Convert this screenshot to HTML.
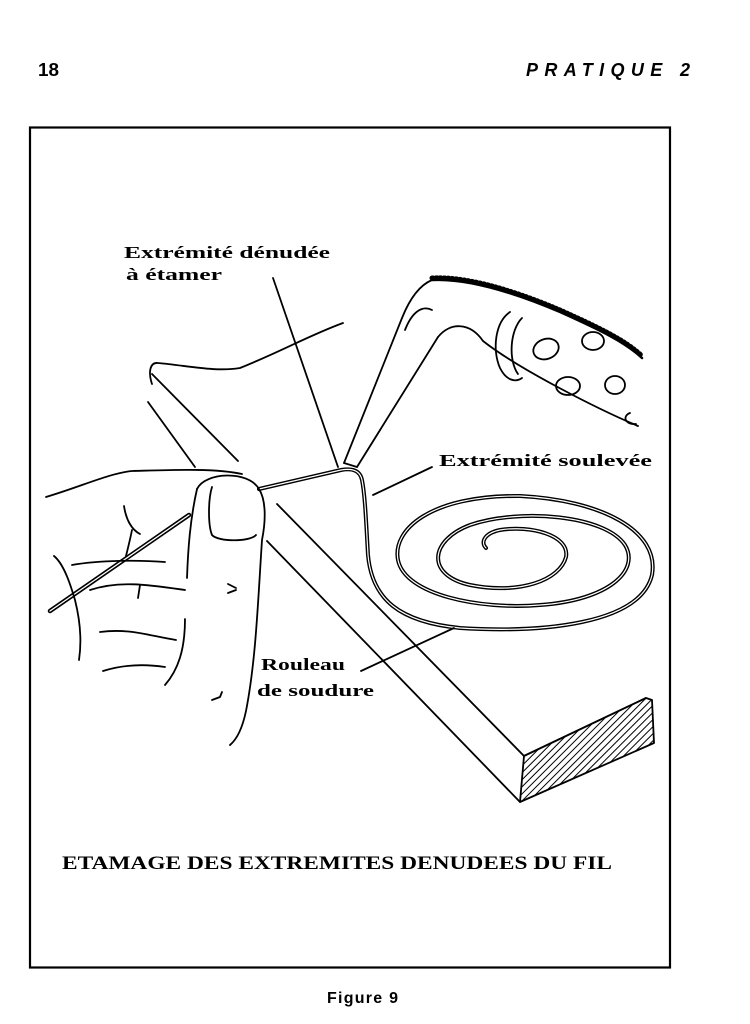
<!DOCTYPE html>
<html><head><meta charset="utf-8"><style>
html,body{margin:0;padding:0;background:#fff;}
svg{display:block;}
</style></head><body>
<svg width="750" height="1024" viewBox="0 0 750 1024" xmlns="http://www.w3.org/2000/svg">
<defs>
<pattern id="h" width="5" height="5" patternUnits="userSpaceOnUse" patternTransform="rotate(45)">
<rect width="5" height="5" fill="#fff"/><line x1="0" y1="0" x2="0" y2="5" stroke="#000" stroke-width="2"/>
</pattern>
</defs>
<text x="38" y="76" font-family="Liberation Sans, sans-serif" font-weight="bold" font-size="18" textLength="21" lengthAdjust="spacingAndGlyphs">18</text>
<text x="526" y="76" font-family="Liberation Sans, sans-serif" font-weight="bold" font-style="italic" font-size="18" textLength="164" lengthAdjust="spacing">PRATIQUE 2</text>
<rect x="30" y="127.5" width="640" height="840" fill="none" stroke="#000" stroke-width="2.2"/>

<g fill="none" stroke="#000" stroke-width="1.8" stroke-linecap="round" stroke-linejoin="round">
<path d="M152,384 C148,372 150,362 158,363 C190,366 215,372 240,368 C280,352 310,335 343,323"/>
<path d="M152,374 L238,461"/>
<path d="M148,402 L195,467"/>
<path d="M277,504 L524,756"/>
<path d="M267,541 L520,802"/>
<path d="M524,756 L646,698"/>
<path d="M524,756 L520,802 L654,743 L652,700 L646,698 Z" fill="url(#h)"/>
<path d="M344,463 L402,318 C410,298 420,285 432,280"/>
<path d="M357,467 L438,337"/>
<path d="M344,463 L357,467"/>
<path d="M405,330 C412,312 422,305 432,310"/>
<path d="M432,280 C470,278 520,295 560,312 C600,330 625,342 642,358" stroke-width="2.5"/>
<path d="M432,280 C470,278 520,295 560,312 C600,330 625,342 642,358" stroke-width="5" stroke-dasharray="1 3" transform="translate(0,-2)"/>
<path d="M438,337 C450,322 470,322 483,341 C520,370 600,410 638,426"/>
<path d="M510,312 C495,322 492,350 500,368 C506,380 515,383 522,378"/>
<path d="M522,318 C510,330 508,360 518,374"/>
<ellipse cx="546" cy="349" rx="13" ry="10" transform="rotate(-20 546 349)"/>
<ellipse cx="593" cy="341" rx="11" ry="9"/>
<ellipse cx="568" cy="386" rx="12" ry="9"/>
<ellipse cx="615" cy="385" rx="10" ry="9"/>
<path d="M630,413 C622,416 625,425 636,424"/>
<path d="M50,611 L189,515" stroke-width="4.5"/>
<path d="M50,611 L189,515" stroke="#fff" stroke-width="1.3"/>
<path d="M259,489 L341,470 C352,468 360,470 362,480 C365,495 366,520 368,555 C372,600 400,622 460,628 C540,633 640,625 652,575 C660,530 600,500 520,496 C430,495 392,530 398,560 C405,595 480,610 540,605 C610,600 640,570 625,545 C605,515 520,508 470,525 C430,540 425,575 470,585 C520,595 560,580 566,557 C570,535 530,525 500,530 C485,533 480,542 486,548" stroke-width="4"/>
<path d="M259,489 L341,470 C352,468 360,470 362,480 C365,495 366,520 368,555 C372,600 400,622 460,628 C540,633 640,625 652,575 C660,530 600,500 520,496 C430,495 392,530 398,560 C405,595 480,610 540,605 C610,600 640,570 625,545 C605,515 520,508 470,525 C430,540 425,575 470,585 C520,595 560,580 566,557 C570,535 530,525 500,530 C485,533 480,542 486,548" stroke="#fff" stroke-width="1.2"/>
<path d="M273,278 L338,467"/>
<path d="M432,467 L373,495"/>
<path d="M361,671 L454,628"/>
<path d="M46,497 C80,487 110,473 132,471 C170,470 215,468 242,474"/>
<path d="M197,489 C205,472 248,470 259,489 C266,500 266,520 262,540 C258,600 256,660 246,711 C242,730 236,740 230,745"/>
<path d="M197,489 C190,520 188,550 187,578"/>
<path d="M212,487 C208,500 208,525 212,535 C218,542 250,542 256,535"/>
<path d="M124,506 C126,520 132,530 140,534"/>
<path d="M54,556 C65,565 72,590 75,600 C80,620 82,640 79,660"/>
<path d="M72,565 C100,560 140,560 165,562"/>
<path d="M90,590 C120,580 150,585 185,590"/>
<path d="M100,632 C130,628 150,636 176,640"/>
<path d="M103,671 C125,664 145,664 165,667"/>
<path d="M185,619 C185,650 178,670 165,685"/>
<path d="M132,530 C130,540 128,548 126,556"/>
<path d="M140,585 L138,598"/>
<path d="M228,584 L236,588 M228,593 L236,590"/>
<path d="M212,700 L220,697 L222,692"/>
</g>

<g font-family="Liberation Serif, serif" font-weight="bold" font-size="17" fill="#000">
<text x="124" y="258" textLength="206" lengthAdjust="spacingAndGlyphs">Extrémité dénudée</text>
<text x="126" y="280" textLength="96" lengthAdjust="spacingAndGlyphs">à étamer</text>
<text x="439" y="466" textLength="213" lengthAdjust="spacingAndGlyphs">Extrémité soulevée</text>
<text x="261" y="670" textLength="84" lengthAdjust="spacingAndGlyphs">Rouleau</text>
<text x="257" y="696" textLength="117" lengthAdjust="spacingAndGlyphs">de soudure</text>
<text x="62" y="869" font-size="19" textLength="550" lengthAdjust="spacingAndGlyphs">ETAMAGE DES EXTREMITES DENUDEES DU FIL</text>
</g>
<text x="327" y="1003" font-family="Liberation Sans, sans-serif" font-weight="bold" font-size="16" textLength="71" lengthAdjust="spacing">Figure 9</text>
</svg>
</body></html>
